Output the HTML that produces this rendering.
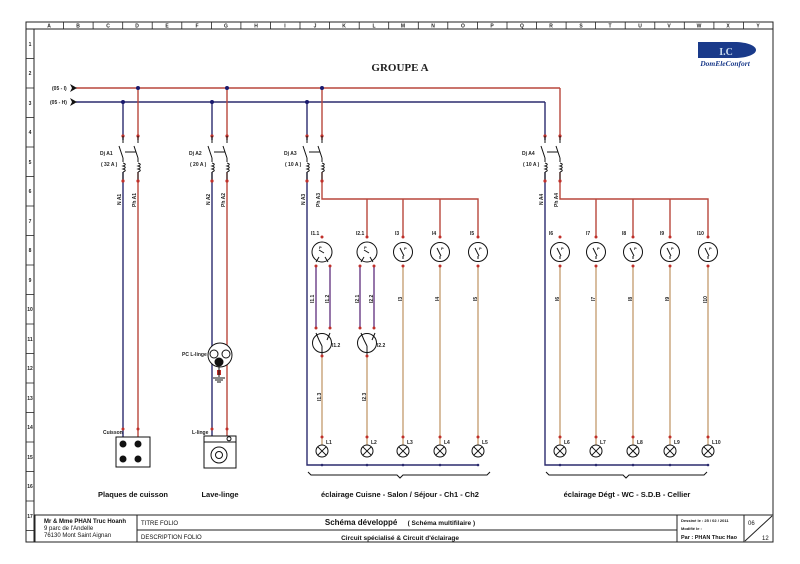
<!DOCTYPE html>
<html><head><meta charset="utf-8"><style>
html,body{margin:0;padding:0;background:#fff;width:800px;height:564px;overflow:hidden}
svg{display:block}
text{font-family:"Liberation Sans",Arial,sans-serif}
.s{font-size:5px;font-weight:bold;fill:#222}
.ph{stroke:#b8473c;stroke-width:1.4;fill:none}
.n{stroke:#2b2b6e;stroke-width:1.4;fill:none}
.r{stroke:#c49a6c;stroke-width:1.3;fill:none}
.t{stroke:#6a3c86;stroke-width:1.4;fill:none}
.k{stroke:#111;stroke-width:1;fill:none}
</style></head><body>
<svg width="800" height="564" viewBox="0 0 800 564" xmlns="http://www.w3.org/2000/svg">
<defs>
<g id="brk">
 <!-- breaker pair, origin at N x; P at +15 -->
 <circle cx="0" cy="136" r="1.6" fill="#c0302a"/><circle cx="15" cy="136" r="1.6" fill="#c0302a"/>
 <path class="k" d="M0 136v7M15 136v7M-4 146l4 12M11 146l4 12M0 158v4M15 158v4M2 152h11" />
 <path d="M2 152h11" stroke="#111" stroke-dasharray="2,1.5" fill="none"/>
 <path class="k" d="M0 163c3 1 3 2 0 3c3 1 3 2 0 3c3 1 3 2 0 3M15 163c3 1 3 2 0 3c3 1 3 2 0 3c3 1 3 2 0 3"/>
 <path class="k" d="M0 172v9M15 172v9"/>
 <circle cx="0" cy="181" r="1.6" fill="#c0302a"/><circle cx="15" cy="181" r="1.6" fill="#c0302a"/>
</g>
<g id="sw">
 <circle cx="0" cy="252" r="9.5" fill="#fff" stroke="#111" stroke-width="1"/>
 <path class="k" d="M-3 248l4 8M0 256v3"/>
 <text x="1" y="250" class="s" style="font-size:4px">P</text>
 <circle cx="0" cy="237" r="1.5" fill="#c0302a"/><circle cx="0" cy="266" r="1.5" fill="#c0302a"/>
</g>
<g id="lamp">
 <circle cx="0" cy="437" r="1.5" fill="#c0302a"/>
 <circle cx="0" cy="451" r="6" fill="#fff" stroke="#111" stroke-width="1"/>
 <path class="k" d="M-4.2 446.8l8.4 8.4M4.2 446.8l-8.4 8.4"/>
 <circle cx="0" cy="465" r="1.3" fill="#2b2b6e"/>
</g>
</defs>

<!-- frame -->
<rect x="26" y="22" width="747" height="520" fill="none" stroke="#222" stroke-width="1"/>
<line x1="26" y1="29" x2="773" y2="29" stroke="#222"/>
<line x1="34" y1="29" x2="34" y2="542" stroke="#222"/>
<g stroke="#222" stroke-width="0.8">
<line x1="63.6" y1="22" x2="63.6" y2="29"/><line x1="93.1" y1="22" x2="93.1" y2="29"/><line x1="122.7" y1="22" x2="122.7" y2="29"/><line x1="152.2" y1="22" x2="152.2" y2="29"/><line x1="181.8" y1="22" x2="181.8" y2="29"/><line x1="211.4" y1="22" x2="211.4" y2="29"/><line x1="240.9" y1="22" x2="240.9" y2="29"/><line x1="270.5" y1="22" x2="270.5" y2="29"/><line x1="300" y1="22" x2="300" y2="29"/><line x1="329.6" y1="22" x2="329.6" y2="29"/><line x1="359.2" y1="22" x2="359.2" y2="29"/><line x1="388.7" y1="22" x2="388.7" y2="29"/><line x1="418.3" y1="22" x2="418.3" y2="29"/><line x1="447.8" y1="22" x2="447.8" y2="29"/><line x1="477.4" y1="22" x2="477.4" y2="29"/><line x1="507" y1="22" x2="507" y2="29"/><line x1="536.5" y1="22" x2="536.5" y2="29"/><line x1="566.1" y1="22" x2="566.1" y2="29"/><line x1="595.6" y1="22" x2="595.6" y2="29"/><line x1="625.2" y1="22" x2="625.2" y2="29"/><line x1="654.8" y1="22" x2="654.8" y2="29"/><line x1="684.3" y1="22" x2="684.3" y2="29"/><line x1="713.9" y1="22" x2="713.9" y2="29"/><line x1="743.4" y1="22" x2="743.4" y2="29"/>
<line x1="26" y1="58.5" x2="34" y2="58.5"/><line x1="26" y1="88" x2="34" y2="88"/><line x1="26" y1="117.5" x2="34" y2="117.5"/><line x1="26" y1="147" x2="34" y2="147"/><line x1="26" y1="176.5" x2="34" y2="176.5"/><line x1="26" y1="206" x2="34" y2="206"/><line x1="26" y1="235.5" x2="34" y2="235.5"/><line x1="26" y1="265" x2="34" y2="265"/><line x1="26" y1="294.5" x2="34" y2="294.5"/><line x1="26" y1="324" x2="34" y2="324"/><line x1="26" y1="353.5" x2="34" y2="353.5"/><line x1="26" y1="383" x2="34" y2="383"/><line x1="26" y1="412.5" x2="34" y2="412.5"/><line x1="26" y1="442" x2="34" y2="442"/><line x1="26" y1="471.5" x2="34" y2="471.5"/><line x1="26" y1="501" x2="34" y2="501"/><line x1="26" y1="530.5" x2="34" y2="530.5"/>
</g>
<g class="s" text-anchor="middle" style="font-size:5px">
<text x="49" y="27.5">A</text><text x="78" y="27.5">B</text><text x="108" y="27.5">C</text><text x="137" y="27.5">D</text><text x="167" y="27.5">E</text><text x="197" y="27.5">F</text><text x="226" y="27.5">G</text><text x="256" y="27.5">H</text><text x="285" y="27.5">I</text><text x="315" y="27.5">J</text><text x="344" y="27.5">K</text><text x="374" y="27.5">L</text><text x="403" y="27.5">M</text><text x="433" y="27.5">N</text><text x="463" y="27.5">O</text><text x="492" y="27.5">P</text><text x="522" y="27.5">Q</text><text x="551" y="27.5">R</text><text x="581" y="27.5">S</text><text x="610" y="27.5">T</text><text x="640" y="27.5">U</text><text x="669" y="27.5">V</text><text x="699" y="27.5">W</text><text x="728" y="27.5">X</text><text x="758" y="27.5">Y</text>
<text x="30" y="46">1</text><text x="30" y="75">2</text><text x="30" y="105">3</text><text x="30" y="134">4</text><text x="30" y="164">5</text><text x="30" y="193">6</text><text x="30" y="223">7</text><text x="30" y="252">8</text><text x="30" y="282">9</text><text x="30" y="311">10</text><text x="30" y="341">11</text><text x="30" y="370">12</text><text x="30" y="400">13</text><text x="30" y="429">14</text><text x="30" y="459">15</text><text x="30" y="488">16</text><text x="30" y="518">17</text>
</g>

<!-- title & logo -->
<text x="400" y="71" text-anchor="middle" style="font-family:'Liberation Serif',serif;font-weight:bold;font-size:11px" fill="#222">GROUPE A</text>
<path d="M698 42h36c14 0 22 4 22 8s-8 8-22 8h-36z" fill="#1a3a8a"/>
<text x="726" y="55" text-anchor="middle" style="font-family:'Liberation Serif',serif;font-weight:bold;font-size:10px" fill="#cde">I.C</text>
<text x="725" y="66" text-anchor="middle" style="font-family:'Liberation Serif',serif;font-weight:bold;font-size:7.5px;font-style:italic" fill="#1a3a8a">DomEleConfort</text>

<!-- bus bars -->
<line x1="76" y1="88" x2="560" y2="88" class="ph"/>
<line x1="76" y1="102" x2="545" y2="102" class="n"/>
<path d="M70 84l7 4l-7 4l2-4z" fill="#111"/><path d="M70 98l7 4l-7 4l2-4z" fill="#111"/>
<text x="52" y="90" class="s">(05 - I)</text><text x="50" y="104" class="s">(05 - H)</text>

<!-- vertical feeds -->
<path class="n" d="M123 102V437"/><path class="ph" d="M138 88V437"/>
<path class="n" d="M212 102V437"/><path class="ph" d="M227 88V437"/>
<path class="n" d="M307 102V465H478"/><path class="ph" d="M322 88V199H478V237M367 199V237M403 199V237M440 199V237"/>
<path class="n" d="M545 102V465H708"/><path class="ph" d="M560 88V199H708V237M596 199V237M633 199V237M670 199V237"/>
<g fill="#1a1a6e"><circle cx="138" cy="88" r="2"/><circle cx="123" cy="102" r="2"/><circle cx="227" cy="88" r="2"/><circle cx="212" cy="102" r="2"/><circle cx="322" cy="88" r="2"/><circle cx="307" cy="102" r="2"/></g>

<!-- breakers -->
<rect x="118" y="140" width="25" height="32" fill="#fff"/><use href="#brk" x="123"/>
<rect x="207" y="140" width="25" height="32" fill="#fff"/><use href="#brk" x="212"/>
<rect x="302" y="140" width="25" height="32" fill="#fff"/><use href="#brk" x="307"/>
<rect x="540" y="140" width="25" height="32" fill="#fff"/><use href="#brk" x="545"/>
<g class="s"><text x="100" y="155">Dj A1</text><text x="101" y="166">( 32 A )</text>
<text x="189" y="155">Dj A2</text><text x="190" y="166">( 20 A )</text>
<text x="284" y="155">Dj A3</text><text x="285" y="166">( 10 A )</text>
<text x="522" y="155">Dj A4</text><text x="523" y="166">( 10 A )</text></g>
<g class="s">
<text transform="translate(121,205) rotate(-90)">N A1</text><text transform="translate(136,207) rotate(-90)">Ph A1</text>
<text transform="translate(210,205) rotate(-90)">N A2</text><text transform="translate(225,207) rotate(-90)">Ph A2</text>
<text transform="translate(305,205) rotate(-90)">N A3</text><text transform="translate(320,207) rotate(-90)">Ph A3</text>
<text transform="translate(543,205) rotate(-90)">N A4</text><text transform="translate(558,207) rotate(-90)">Ph A4</text>
</g>

<!-- appliances -->
<circle cx="123" cy="429" r="1.5" fill="#c0302a"/><circle cx="138" cy="429" r="1.5" fill="#c0302a"/>
<text x="103" y="434" class="s">Cuisson</text>
<rect x="116" y="437" width="34" height="30" fill="#fff" stroke="#111"/>
<g fill="#111"><circle cx="123" cy="444" r="3.5"/><circle cx="138" cy="444" r="3.5"/><circle cx="123" cy="459" r="3.5"/><circle cx="138" cy="459" r="3.5"/></g>
<circle cx="220" cy="355" r="12" fill="#fff" stroke="#111"/>
<circle cx="214" cy="354" r="4" fill="#fff" stroke="#111"/><circle cx="226" cy="354" r="4" fill="#fff" stroke="#111"/>
<circle cx="219" cy="362" r="4.5" fill="#111"/>
<rect x="217" y="370" width="4" height="5" fill="#c0302a"/>
<path class="k" d="M219 367v10M213 378h12M215 380h8M217 382h4"/>
<text x="182" y="356" class="s">PC L-linge</text>
<circle cx="212" cy="429" r="1.5" fill="#c0302a"/><circle cx="227" cy="429" r="1.5" fill="#c0302a"/>
<text x="192" y="434" class="s">L-linge</text>
<rect x="204" y="436" width="32" height="32" fill="#fff" stroke="#111"/>
<path class="k" d="M204 442h32"/><circle cx="229" cy="438.8" r="2" fill="#fff" stroke="#111"/>
<circle cx="219" cy="455" r="8" fill="#fff" stroke="#111"/><circle cx="219" cy="455" r="3.5" fill="#fff" stroke="#111"/>

<!-- group A3 circuit -->
<path class="t" d="M316 266V328M330 266V328M360 266V328M374 266V328"/>
<g fill="#c0302a"><circle cx="316" cy="266" r="1.5"/><circle cx="330" cy="266" r="1.5"/><circle cx="360" cy="266" r="1.5"/><circle cx="374" cy="266" r="1.5"/><circle cx="316" cy="328" r="1.5"/><circle cx="330" cy="328" r="1.5"/><circle cx="360" cy="328" r="1.5"/><circle cx="374" cy="328" r="1.5"/></g>
<path class="r" d="M322 356V445M367 356V445M403 266V445M440 266V445M478 266V445"/>
<path class="r" d="M596 266V445M633 266V445M670 266V445M708 266V445M560 266V445"/>
<g>
<circle cx="322" cy="252" r="10" fill="#fff" stroke="#111"/><path class="k" d="M316 262l3-5M328 262l-3-5M319 250l5 3"/><text x="319" y="249" class="s" style="font-size:4px">P</text>
<circle cx="367" cy="252" r="10" fill="#fff" stroke="#111"/><path class="k" d="M361 262l3-5M373 262l-3-5M364 250l5 3"/><text x="364" y="249" class="s" style="font-size:4px">P</text>
<circle cx="322" cy="237" r="1.5" fill="#c0302a"/><circle cx="367" cy="237" r="1.5" fill="#c0302a"/>
<circle cx="322" cy="343" r="9.5" fill="#fff" stroke="#111"/><path class="k" d="M316 333l3 7M330 333l-3 7M319 340l3 6M322 346v10"/>
<circle cx="367" cy="343" r="9.5" fill="#fff" stroke="#111"/><path class="k" d="M361 333l3 7M375 333l-3 7M364 340l3 6M367 346v10"/>
<circle cx="322" cy="356" r="1.5" fill="#c0302a"/><circle cx="367" cy="356" r="1.5" fill="#c0302a"/>
</g>
<use href="#sw" x="403"/><use href="#sw" x="440"/><use href="#sw" x="478"/>
<use href="#sw" x="560"/><use href="#sw" x="596"/><use href="#sw" x="633"/><use href="#sw" x="670"/><use href="#sw" x="708"/>
<g class="s">
<text x="311" y="235">I1.1</text><text x="356" y="235">I2.1</text><text x="395" y="235">I3</text><text x="432" y="235">I4</text><text x="470" y="235">I5</text>
<text x="549" y="235">I6</text><text x="586" y="235">I7</text><text x="622" y="235">I8</text><text x="660" y="235">I9</text><text x="697" y="235">I10</text>
<text x="332" y="347">I1.2</text><text x="377" y="347">I2.2</text>
<text transform="translate(314,303) rotate(-90)">I1.1</text><text transform="translate(329,303) rotate(-90)">I1.2</text>
<text transform="translate(359,303) rotate(-90)">I2.1</text><text transform="translate(373,303) rotate(-90)">I2.2</text>
<text transform="translate(402,301) rotate(-90)">I3</text><text transform="translate(439,301) rotate(-90)">I4</text><text transform="translate(477,301) rotate(-90)">I5</text>
<text transform="translate(321,401) rotate(-90)">I1.3</text><text transform="translate(366,401) rotate(-90)">I2.3</text>
<text transform="translate(559,301) rotate(-90)">I6</text><text transform="translate(595,301) rotate(-90)">I7</text><text transform="translate(632,301) rotate(-90)">I8</text><text transform="translate(669,301) rotate(-90)">I9</text><text transform="translate(707,303) rotate(-90)">I10</text>
</g>
<use href="#lamp" x="322"/><use href="#lamp" x="367"/><use href="#lamp" x="403"/><use href="#lamp" x="440"/><use href="#lamp" x="478"/>
<use href="#lamp" x="560"/><use href="#lamp" x="596"/><use href="#lamp" x="633"/><use href="#lamp" x="670"/><use href="#lamp" x="708"/>
<g class="s"><text x="326" y="444">L1</text><text x="371" y="444">L2</text><text x="407" y="444">L3</text><text x="444" y="444">L4</text><text x="482" y="444">L5</text>
<text x="564" y="444">L6</text><text x="600" y="444">L7</text><text x="637" y="444">L8</text><text x="674" y="444">L9</text><text x="712" y="444">L10</text></g>
<path class="k" stroke-width="0.8" d="M308 472l3 3H397l3 3l3-3H487l3-3"/>
<path class="k" stroke-width="0.8" d="M546 472l3 3H623l3 3l3-3H704l3-3"/>

<g style="font-size:7.5px;font-weight:bold" fill="#111" text-anchor="middle">
<text x="133" y="497">Plaques de cuisson</text><text x="220" y="497">Lave-linge</text>
<text x="400" y="497">éclairage Cuisne - Salon / Séjour - Ch1 - Ch2</text>
<text x="627" y="497">éclairage Dégt - WC - S.D.B - Cellier</text>
</g>

<!-- title block -->
<rect x="35" y="515" width="738" height="27" fill="#fff" stroke="#222"/>
<line x1="137" y1="515" x2="137" y2="542" stroke="#222"/>
<line x1="137" y1="530" x2="677" y2="530" stroke="#222"/>
<line x1="677" y1="515" x2="677" y2="542" stroke="#222"/>
<line x1="744" y1="515" x2="744" y2="542" stroke="#222"/>
<line x1="745" y1="541" x2="772" y2="516" stroke="#222"/>
<g style="font-family:'Liberation Serif',serif;font-size:6px" fill="#111">
<text x="44" y="523" font-weight="bold">Mr &amp; Mme PHAN Truc Hoanh</text>
<text x="44" y="530">9 parc de l'Andelle</text>
<text x="44" y="537">76130 Mont Saint Aignan</text>
<text x="400" y="525" text-anchor="middle" font-weight="bold" style="font-size:8px">Schéma développé <tspan dx="8" style="font-size:6.5px">( Schéma multifilaire )</tspan></text>
<text x="400" y="540" text-anchor="middle" font-weight="bold" style="font-size:6.5px">Circuit spécialisé &amp; Circuit d'éclairage</text>
</g>
<g style="font-size:6px" fill="#111">
<text x="141" y="525">TITRE FOLIO</text><text x="141" y="539">DESCRIPTION FOLIO</text>
<text x="681" y="522" style="font-size:4px;font-weight:bold">Dessiné le :    25 / 02 / 2011</text>
<text x="681" y="530" style="font-size:4px;font-weight:bold">Modifié le :</text>
<text x="681" y="539" style="font-size:5.5px;font-weight:bold">Par : PHAN Thuc Hao</text>
<text x="748" y="525">06</text><text x="762" y="540">12</text>
</g>
</svg>
</body></html>
